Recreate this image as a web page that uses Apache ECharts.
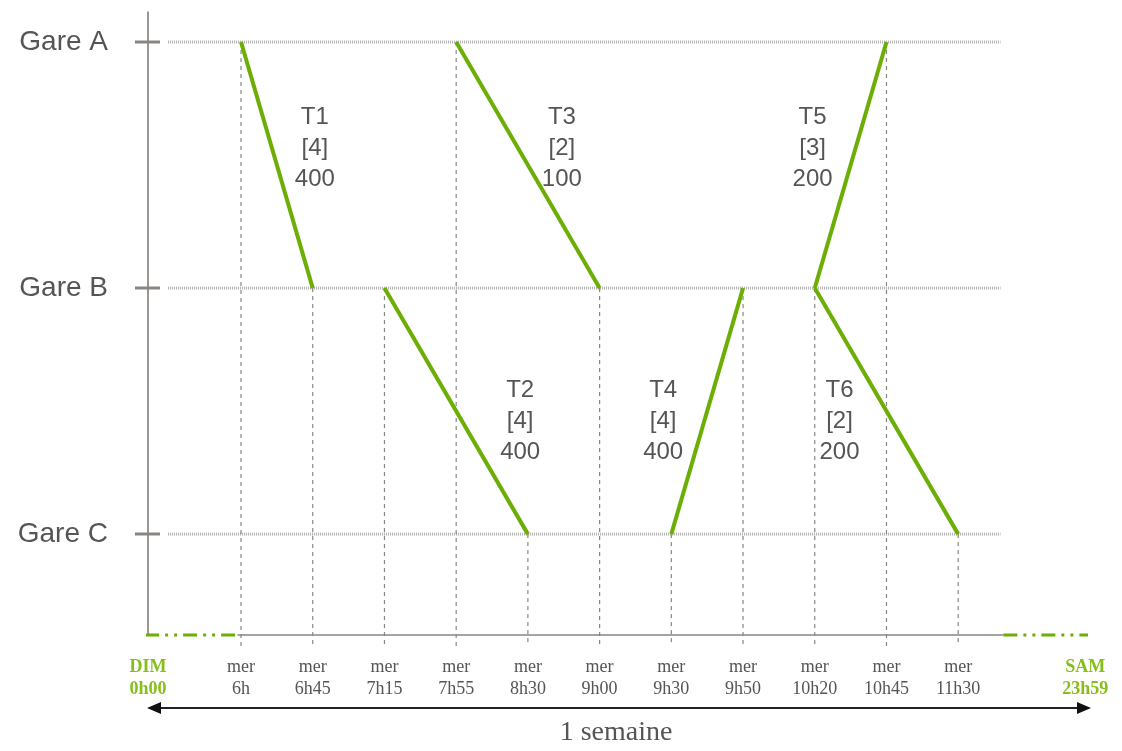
<!DOCTYPE html>
<html>
<head>
<meta charset="utf-8">
<script src="https://cdn.jsdelivr.net/npm/echarts@6/dist/echarts.min.js"></script>
<style>
html,body{margin:0;padding:0;background:#fff;}
#chart{width:1122px;height:751px;}
</style>
</head>
<body>
<div id="chart"></div>
<script>
// ---------- data ----------
const stations = ['Gare C', 'Gare B', 'Gare A'];          // y index 0,1,2
const dayLabel = 'mer';
const timeLabels = ['6h', '6h45', '7h15', '7h55', '8h30', '9h00', '9h30', '9h50', '10h20', '10h45', '11h30'];
const periodStart = ['DIM', '0h00'];
const periodEnd = ['SAM', '23h59'];
const periodText = '1 semaine';

const trainNames = ['T1', 'T2', 'T3', 'T4', 'T5', 'T6'];
const trainFrom  = ['Gare A', 'Gare B', 'Gare A', 'Gare C', 'Gare B', 'Gare B'];
const trainTo    = ['Gare B', 'Gare C', 'Gare B', 'Gare B', 'Gare A', 'Gare C'];
const trainDep   = ['6h', '7h15', '7h55', '9h30', '10h20', '10h20'];
const trainArr   = ['6h45', '8h30', '9h00', '9h50', '10h45', '11h30'];
const trainCars  = [4, 4, 2, 4, 3, 2];
const trainPax   = [400, 400, 100, 400, 200, 200];

// ---------- layout / style ----------
const labelOffsets = [[38, -17], [64, 10], [34, -17], [-44, 10], [-38, -17], [-47, 10]];
const X_MIN = -1.297, X_MAX = 11.81, X_END_LABEL = 11.77;
const Y_MIN = -0.41, Y_MAX = 2.122;
const GREEN = '#6cae05';
const GREEN_TXT = '#86bf1a';
const GREY_TXT = '#555555';
const SANS = '"Liberation Sans", Arial, sans-serif';
const SERIF = '"Liberation Serif", "Times New Roman", serif';

const xi = t => timeLabels.indexOf(t);
const yi = s => stations.indexOf(s);

const series = [];

// station guide lines
stations.forEach(s => {
  series.push({
    type: 'line', silent: true, symbol: 'none', z: 1,
    lineStyle: { color: '#b0b0b0', width: 3, type: [1, 1] },
    data: [[X_MIN + 0.28, yi(s)], [10.59, yi(s)]]
  });
});

// vertical dashed lines from each path endpoint down below the axis
const topAt = {};
trainNames.forEach((n, k) => {
  [[trainDep[k], trainFrom[k]], [trainArr[k], trainTo[k]]].forEach(([t, s]) => {
    const y = yi(s);
    if (topAt[t] === undefined || y > topAt[t]) topAt[t] = y;
  });
});
timeLabels.forEach(t => {
  if (topAt[t] === undefined) return;
  series.push({
    type: 'line', silent: true, symbol: 'none', clip: false, z: 2,
    lineStyle: { color: '#858585', width: 1.2, type: [4, 4] },
    data: [[xi(t), topAt[t]], [xi(t), Y_MIN - 0.045]]
  });
});

// x axis line (grey) and green dash-dot ends
series.push({
  type: 'line', silent: true, symbol: 'none', clip: false, z: 3,
  lineStyle: { color: '#8a8580', width: 1.5 },
  data: [[-0.05, Y_MIN], [10.63, Y_MIN]]
});
[[X_MIN - 0.04, -0.06], [10.63, X_MAX]].forEach(([a, b]) => {
  series.push({
    type: 'line', silent: true, symbol: 'none', clip: false, z: 4,
    lineStyle: { color: GREEN, width: 3, type: [14, 6, 3, 6, 3, 6] },
    data: [[a, Y_MIN], [b, Y_MIN]]
  });
});

// train paths
trainNames.forEach((n, k) => {
  series.push({
    type: 'line', name: n, symbol: 'none', z: 5,
    lineStyle: { color: GREEN, width: 4 },
    data: [[xi(trainDep[k]), yi(trainFrom[k])], [xi(trainArr[k]), yi(trainTo[k])]]
  });
});

// train labels
series.push({
  type: 'scatter', symbolSize: 0, z: 6, silent: true,
  itemStyle: { color: 'transparent', opacity: 1 },
  data: trainNames.map((n, k) => ({
    value: [(xi(trainDep[k]) + xi(trainArr[k])) / 2, (yi(trainFrom[k]) + yi(trainTo[k])) / 2],
    label: {
      show: true, position: 'inside', offset: labelOffsets[k],
      formatter: n + '\n[' + trainCars[k] + ']\n' + trainPax[k],
      fontFamily: SANS, fontSize: 24, lineHeight: 31, color: GREY_TXT, align: 'center',
      textBorderWidth: 0, textBorderColor: 'transparent', opacity: 1
    }
  }))
});

const xLabelValues = [X_MIN].concat(timeLabels.map((t, i) => i)).concat([X_END_LABEL]);

const option = {
  animation: false,
  backgroundColor: '#ffffff',
  grid: { left: 148, right: 34, top: 12, bottom: 116, containLabel: false },
  xAxis: {
    type: 'value', min: X_MIN, max: X_MAX,
    axisLine: { show: false }, axisTick: { show: false }, splitLine: { show: false },
    axisLabel: {
      customValues: xLabelValues, showMinLabel: true, showMaxLabel: true,
      margin: 21, lineHeight: 22, fontFamily: SERIF, fontSize: 18, color: GREY_TXT,
      formatter: v => {
        if (Math.abs(v - X_MIN) < 0.01) return '{g|' + periodStart[0] + '}\n{g|' + periodStart[1] + '}';
        if (Math.abs(v - X_END_LABEL) < 0.01) return '{g|' + periodEnd[0] + '}\n{g|' + periodEnd[1] + '}';
        const i = Math.round(v);
        return dayLabel + '\n' + timeLabels[i];
      },
      rich: { g: { color: GREEN_TXT, fontWeight: 'bold', fontFamily: SERIF, fontSize: 18, lineHeight: 22 } }
    }
  },
  yAxis: {
    type: 'value', min: Y_MIN, max: Y_MAX,
    axisLine: { show: true, onZero: false, lineStyle: { color: '#7d756f', width: 1.5 } },
    axisTick: { show: false }, splitLine: { show: false },
    axisLabel: {
      customValues: [0, 1, 2], margin: 40, fontFamily: SANS, fontSize: 28, color: GREY_TXT,
      formatter: v => stations[Math.round(v)] || ''
    }
  },
  series: series
};

const chart = echarts.init(document.getElementById('chart'));
chart.setOption(option);

// station tick marks crossing the y axis, period arrow and caption
const xl = chart.convertToPixel({ gridIndex: 0 }, [X_MIN, 0])[0];
const xr = chart.convertToPixel({ gridIndex: 0 }, [X_MAX, 0])[0] + 2;
const ya = 708;
const graphics = stations.map((s, i) => {
  const py = Math.round(chart.convertToPixel({ gridIndex: 0 }, [0, i])[1]);
  return { type: 'line', z: 10, shape: { x1: xl - 13, y1: py, x2: xl + 12, y2: py }, style: { stroke: '#8a8580', lineWidth: 3 } };
});
graphics.push(
  { type: 'line', shape: { x1: xl + 8, y1: ya, x2: xr - 8, y2: ya }, style: { stroke: '#222', lineWidth: 2 } },
  { type: 'polygon', shape: { points: [[xl - 1, ya], [xl + 13, ya - 6], [xl + 13, ya + 6]] }, style: { fill: '#111' } },
  { type: 'polygon', shape: { points: [[xr + 1, ya], [xr - 13, ya - 6], [xr - 13, ya + 6]] }, style: { fill: '#111' } },
  { type: 'text', x: (xl + xr) / 2 - 3, y: 733, style: { text: periodText, font: '28px ' + SERIF, fill: GREY_TXT, align: 'center', verticalAlign: 'middle' } }
);
chart.setOption({ graphic: graphics });
</script>
</body>
</html>
